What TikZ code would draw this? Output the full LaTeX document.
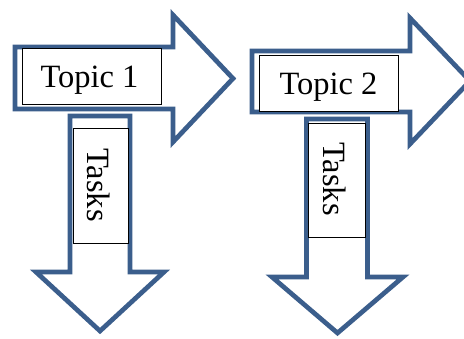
\documentclass[tikz,border=0pt]{standalone}
\usepackage{fontspec}
\setmainfont{Liberation Serif}
\definecolor{arrowblue}{HTML}{3B5E8C}
\begin{document}
\begin{tikzpicture}[x=1pt,y=-1pt,
  arrowshape/.style={draw=arrowblue,line width=4.7pt,fill=white,line join=miter,miter limit=10},
  labelbox/.style={draw=black,line width=0.9pt,fill=white,inner sep=0pt},
  labeltext/.style={font=\fontsize{32.5}{38}\selectfont,inner sep=0pt}]
\useasboundingbox (0,0) rectangle (464,338);
% right arrow 1
\draw[arrowshape] (15,47) -- (173,47) -- (173,15) -- (233,78.5) -- (173,142) -- (173,109) -- (15,109) -- cycle;
% down arrow 1
\draw[arrowshape] (70,116) -- (130,116) -- (130,272) -- (164,272) -- (100,331) -- (36,272) -- (70,272) -- cycle;
% right arrow 2
\draw[arrowshape] (252,51) -- (410,51) -- (410,18) -- (470,81) -- (410,144) -- (410,112) -- (252,112) -- cycle;
% down arrow 2
\draw[arrowshape] (306.5,119) -- (367.5,119) -- (367.5,277) -- (403,277) -- (337.5,333) -- (272,277) -- (306.5,277) -- cycle;
% label boxes
\node[labelbox,minimum width=139pt,minimum height=56pt] (box1) at (91.5,76) {};
\node[labeltext,anchor=base] (topic1) at (89.5,87) {Topic 1};
\node[labelbox,minimum width=55pt,minimum height=115pt] (box2) at (100.5,185.5) {};
\node[labeltext,anchor=base,rotate=-90] (tasks1) at (87,185) {Tasks};
\node[labelbox,minimum width=139pt,minimum height=56pt] (box3) at (328.5,83) {};
\node[labeltext,anchor=base] (topic2) at (328.5,94) {Topic 2};
\node[labelbox,minimum width=57pt,minimum height=114pt] (box4) at (336.5,180) {};
\node[labeltext,anchor=base,rotate=-90] (tasks2) at (323,179) {Tasks};
\end{tikzpicture}
\end{document}
